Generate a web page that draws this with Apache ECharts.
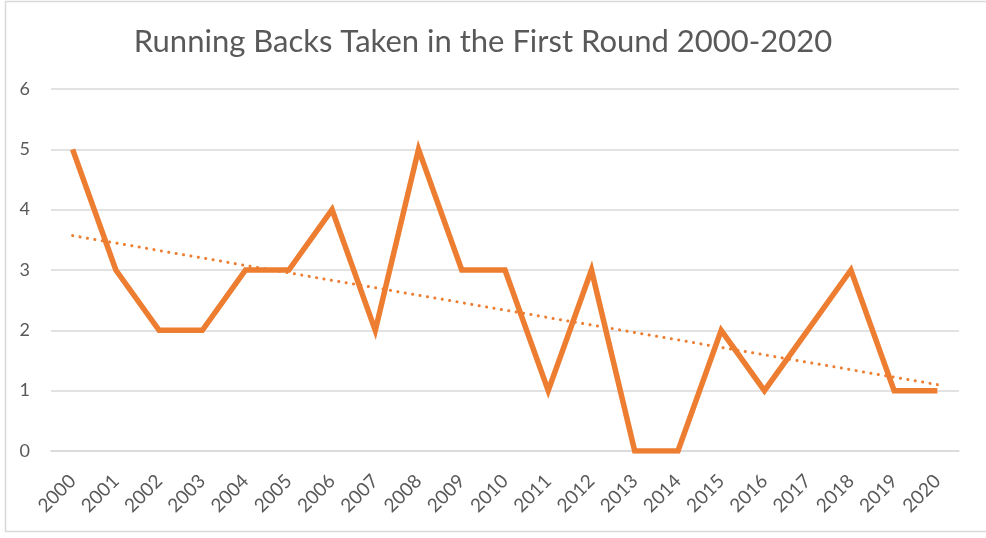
<!DOCTYPE html>
<html>
<head>
<meta charset="utf-8">
<style>
html,body{margin:0;padding:0;background:#fff;}
#chart{width:986px;height:538px;}
</style>
<script src="https://cdn.jsdelivr.net/npm/echarts@6/dist/echarts.min.js"></script>
</head>
<body>
<div id="chart"></div>
<script>
const years = ['2000','2001','2002','2003','2004','2005','2006','2007','2008','2009','2010','2011','2012','2013','2014','2015','2016','2017','2018','2019','2020'];
const runningBacks = [5,3,2,2,3,3,4,2,5,3,3,1,3,0,0,2,1,2,3,1,1];
// Linear trendline endpoints (2000 and 2020)
const trendEnds = [3.57, 1.10];
const yTicks = [0,1,2,3,4,5,6];

const trendData = years.map((y, i) => i === 0 ? trendEnds[0] : (i === years.length - 1 ? trendEnds[1] : null));

const chart = echarts.init(document.getElementById('chart'), null, {renderer:'canvas'});
const FONT = 'Lato';
chart.setOption({
  backgroundColor:'#fff',
  animation:false,
  title:{
    text:'Running Backs Taken in the First Round 2000-2020',
    left:478, top:21, textAlign:'center',
    textStyle:{fontFamily:FONT, fontSize:31, fontWeight:'normal', color:'#595959'}
  },
  graphic:[{
    type:'rect', silent:true,
    shape:{x:5.5, y:1.5, width:1000, height:530},
    style:{fill:'none', stroke:'#D9D9D9', lineWidth:1.5}
  }],
  grid:{left:51, right:27, top:89, bottom:87, containLabel:false},
  xAxis:{
    type:'category', data:years, boundaryGap:true,
    axisLine:{show:true, lineStyle:{color:'#D9D9D9', width:1.5}},
    axisTick:{show:false},
    axisLabel:{rotate:45, margin:27, fontFamily:FONT, fontSize:19, color:'#595959', interval:0}
  },
  yAxis:{
    type:'value', min:0, max:6, interval:1,
    axisLine:{show:false}, axisTick:{show:false},
    splitLine:{lineStyle:{color:'#D9D9D9', width:1.5}},
    axisLabel:{margin:21, fontFamily:FONT, fontSize:18, color:'#595959',
      formatter:(v)=> yTicks.includes(v) ? String(v) : ''}
  },
  series:[
    {
      type:'line', data:runningBacks, symbol:'none',
      lineStyle:{color:'#ED7D31', width:5.5, join:'miter', cap:'butt'},
      z:3
    },
    {
      type:'line', data:trendData, connectNulls:true, symbol:'none',
      lineStyle:{color:'#ED7D31', width:3, type:[0.1,7.4], cap:'round'},
      z:2
    }
  ]
});
</script>
</body>
</html>
